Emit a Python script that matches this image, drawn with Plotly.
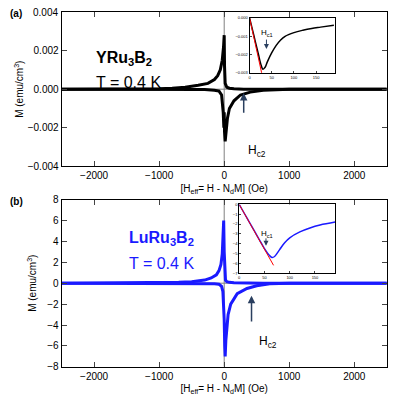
import plotly.graph_objects as go

# Panel (a) YRu3B2
ha1 = [-2500,-1500,-1000,-800,-600,-400,-250,-150,-100,-60,-30,-10,0,5,15,40,80,150,300,600,1000,2500]
ma1 = [0,0,0.00002,0.00005,0.0001,0.0002,0.0003,0.0005,0.0007,0.001,0.0015,0.0022,0.0028,0.0012,0.0003,0.0001,0.00005,0.00002,0,0,0,0]
ha2 = [-2500,-1000,-600,-300,-150,-80,-40,-15,-5,0,5,15,30,50,80,150,250,400,600,1000,2500]
ma2 = [0,0,0,-0.00002,-0.00005,-0.0001,-0.0003,-0.0012,-0.002,-0.0012,-0.0022,-0.0027,-0.0022,-0.0015,-0.001,-0.0006,-0.0003,-0.00015,-0.00005,0,0]
# Inset (a)
hia = [0,5,10,15,20,25,30,35,40,50,60,70,80,100,120,140,160,190]
mia = [0,-0.0005,-0.001,-0.0015,-0.002,-0.0025,-0.0028,-0.0027,-0.0024,-0.0019,-0.0015,-0.0012,-0.001,-0.0008,-0.00067,-0.00057,-0.0005,-0.0004]
hla = [0,28]
mla = [0,-0.0031]
# Panel (b) LuRu3B2
hb1 = [-2500,-1500,-1000,-700,-500,-300,-200,-120,-80,-50,-30,-15,-8,0,8,20,40,80,150,300,600,1000,2500]
mb1 = [0,0.02,0.05,0.1,0.15,0.3,0.5,0.8,1.2,1.8,2.8,4.5,6.0,3.0,0.8,0.3,0.15,0.08,0.05,0.02,0,0,0]
hb2 = [-2500,-1000,-600,-300,-150,-80,-40,-20,-8,0,8,15,25,40,60,100,200,350,500,700,1000,2500]
mb2 = [0,0,0,-0.02,-0.05,-0.1,-0.3,-0.8,-2.0,-3.5,-6.0,-7.0,-5.5,-4.0,-3.0,-2.0,-1.0,-0.5,-0.25,-0.05,0,0]
# Inset (b)
hib = [0,10,20,30,40,50,60,65,70,80,90,100,120,140,160,190]
mib = [0,-0.9,-1.8,-2.7,-3.6,-4.5,-5.2,-5.4,-5.3,-4.6,-3.9,-3.4,-2.8,-2.4,-2.1,-1.8]
hlb = [0,68]
mlb = [0,-6.2]
top_tick = 0.004

fig = go.Figure()
blk = "black"; blu = "#1a1aff"
fig.add_trace(go.Scatter(x=ha1, y=ma1, mode="lines", line=dict(color=blk, width=3), xaxis="x", yaxis="y"))
fig.add_trace(go.Scatter(x=ha2, y=ma2, mode="lines", line=dict(color=blk, width=3), xaxis="x", yaxis="y"))
fig.add_trace(go.Scatter(x=hb1, y=mb1, mode="lines", line=dict(color=blu, width=3), xaxis="x2", yaxis="y2"))
fig.add_trace(go.Scatter(x=hb2, y=mb2, mode="lines", line=dict(color=blu, width=3), xaxis="x2", yaxis="y2"))
fig.add_trace(go.Scatter(x=hia, y=mia, mode="lines", line=dict(color=blk, width=1.5, shape="spline"), xaxis="x3", yaxis="y3"))
fig.add_trace(go.Scatter(x=hla, y=mla, mode="lines", line=dict(color="red", width=1), xaxis="x3", yaxis="y3"))
fig.add_trace(go.Scatter(x=hib, y=mib, mode="lines", line=dict(color=blu, width=1.5, shape="spline"), xaxis="x4", yaxis="y4"))
fig.add_trace(go.Scatter(x=hlb, y=mlb, mode="lines", line=dict(color="red", width=1), xaxis="x4", yaxis="y4"))

F = "Arial, Liberation Sans"
ax = dict(showline=True, linecolor="black", mirror="ticks", ticks="inside", showgrid=False, zeroline=False,
          tickfont=dict(size=10, family=F, color="black"), automargin=False)
sm = dict(showline=True, linecolor="black", mirror=True, ticks="inside", ticklen=2, showgrid=False, zeroline=False,
          tickfont=dict(size=4, color="black"), automargin=False)
title_x = "[H<sub>eff</sub>= H - N<sub>d</sub>M] (Oe)"
fig.update_layout(
    width=400, height=400, margin=dict(l=0, r=0, t=0, b=0), showlegend=False,
    plot_bgcolor="white", paper_bgcolor="white",
    font=dict(family=F, color="black", size=10),
    xaxis=dict(ax, domain=[0.134, 0.947], range=[-2500, 2500], dtick=1000, anchor="y",
               title=dict(text=title_x, font=dict(size=10), standoff=4)),
    yaxis=dict(ax, domain=[0.604, 0.99], range=[-0.004, 0.004], tickvals=[-0.004, -0.002, 0, 0.002, 0.004],
               tickformat=".3f", anchor="x",
               title=dict(text="M (emu/cm<sup>3</sup>)", font=dict(size=10), standoff=2)),
    xaxis2=dict(ax, domain=[0.134, 0.947], range=[-2500, 2500], dtick=1000, anchor="y2",
                title=dict(text=title_x, font=dict(size=10), standoff=4)),
    yaxis2=dict(ax, domain=[0.103, 0.521], range=[-8, 8], dtick=2, anchor="x2",
                title=dict(text="M (emu/cm<sup>3</sup>)", font=dict(size=10), standoff=8)),
    xaxis3=dict(sm, domain=[0.604, 0.818], range=[0, 193], dtick=50, anchor="y3"),
    yaxis3=dict(sm, domain=[0.838, 0.975], range=[-0.003, 0.0], dtick=0.001, tickformat=".3f", anchor="x3"),
    xaxis4=dict(sm, domain=[0.578, 0.818], range=[0, 190], dtick=50, anchor="y4"),
    yaxis4=dict(sm, domain=[0.337, 0.509], range=[-7, 0], dtick=1, anchor="x4"),
)
for xa, ya, r in [("x", "y", 0.004), ("x2", "y2", 8)]:
    fig.add_shape(type="line", xref=xa, yref=ya, x0=0, x1=0, y0=-r, y1=r, line=dict(color="gray", width=1), layer="below")
    fig.add_shape(type="line", xref=xa, yref=ya, x0=-2500, x1=2500, y0=0, y1=0, line=dict(color="gray", width=1), layer="below")

ann = [
    dict(x=0.134, y=top_tick, xref="paper", yref="y", text=f"{top_tick:.3f}", showarrow=False, xanchor="right", xshift=-2, font=dict(size=10)),
    dict(x=0.0, y=1.005, xref="paper", yref="paper", text="<b>(a)</b>", showarrow=False, xanchor="left", yanchor="top", font=dict(size=10)),
    dict(x=0.0, y=0.535, xref="paper", yref="paper", text="<b>(b)</b>", showarrow=False, xanchor="left", yanchor="top", font=dict(size=10)),
    dict(x=0.215, y=0.902, xref="paper", yref="paper", text="<b>YRu<sub>3</sub>B<sub>2</sub></b>", showarrow=False, xanchor="left", font=dict(size=16)),
    dict(x=0.215, y=0.840, xref="paper", yref="paper", text="T = 0.4 K", showarrow=False, xanchor="left", font=dict(size=16)),
    dict(x=0.298, y=0.423, xref="paper", yref="paper", text="<b>LuRu<sub>3</sub>B<sub>2</sub></b>", showarrow=False, xanchor="left", font=dict(size=16, color=blu)),
    dict(x=0.298, y=0.361, xref="paper", yref="paper", text="T = 0.4 K", showarrow=False, xanchor="left", font=dict(size=16, color=blu)),
    dict(x=300, y=-0.0002, xref="x", yref="y", ax=300, ay=-0.0013, axref="x", ayref="y", text="", showarrow=True, arrowhead=2, arrowwidth=1.5),
    dict(x=500, y=-0.0032, xref="x", yref="y", text="H<sub>c2</sub>", showarrow=False, font=dict(size=12)),
    dict(x=420, y=-1.2, xref="x2", yref="y2", ax=420, ay=-3.8, axref="x2", ayref="y2", text="", showarrow=True, arrowhead=2, arrowwidth=1.5),
    dict(x=680, y=-5.6, xref="x2", yref="y2", text="H<sub>c2</sub>", showarrow=False, font=dict(size=12)),
    dict(x=38, y=-0.0017, xref="x3", yref="y3", ax=38, ay=-0.0011, axref="x3", ayref="y3", text="", showarrow=True, arrowhead=2, arrowwidth=1),
    dict(x=40, y=-0.0008, xref="x3", yref="y3", text="H<sub>c1</sub>", showarrow=False, font=dict(size=8)),
    dict(x=53, y=-4.2, xref="x4", yref="y4", ax=53, ay=-3.3, axref="x4", ayref="y4", text="", showarrow=True, arrowhead=2, arrowwidth=1),
    dict(x=55, y=-3.0, xref="x4", yref="y4", text="H<sub>c1</sub>", showarrow=False, font=dict(size=8)),
]
fig.update_layout(annotations=ann)
fig.write_html("out.html")
